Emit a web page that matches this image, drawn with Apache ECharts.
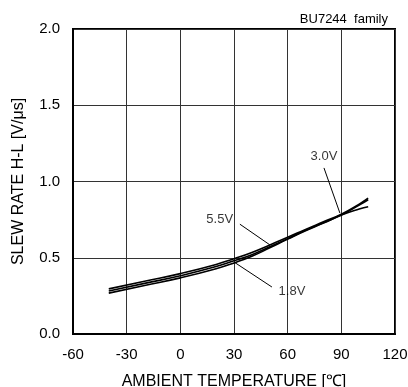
<!DOCTYPE html>
<html><head><meta charset="utf-8">
<script src="https://cdn.jsdelivr.net/npm/echarts@6/dist/echarts.min.js"></script>
<style>html,body{margin:0;padding:0;background:#fff}#c{width:408px;height:387px}</style>
</head><body><div id="c"></div>
<script>
const temps = [-40, -20, 0, 20, 30, 40, 50, 60, 70, 80, 90, 100, 105];
const v18 = [0.282, 0.332, 0.382, 0.442, 0.48, 0.52, 0.572, 0.625, 0.68, 0.73, 0.78, 0.845, 0.88];
const v30 = [0.268, 0.318, 0.368, 0.428, 0.466, 0.51, 0.565, 0.622, 0.677, 0.727, 0.78, 0.82, 0.835];
const v55 = [0.296, 0.346, 0.396, 0.456, 0.494, 0.535, 0.584, 0.634, 0.686, 0.736, 0.786, 0.852, 0.89];
const labels = [
  {name: '5.5V', pos: [22, 0.754], from: [33.3, 0.72], to: [50.1, 0.584]},
  {name: '3.0V', pos: [80.3, 1.167], from: [80.3, 1.089], to: [89.2, 0.793]},
  {name: '1.8V', pos: [62.4, 0.282], from: [51.2, 0.308], to: [30, 0.472]}
];
const font = 'Liberation Sans, Arial, sans-serif';
const chart = echarts.init(document.getElementById('c'));
const lineSeries = (name, vals) => ({
  name, type: 'line', data: temps.map((t, i) => [t, vals[i]]), smooth: true,
  symbol: 'none', lineStyle: {color: '#000', width: 1.6}, z: 3
});
chart.setOption({
  animation: false,
  grid: {left: 73, right: 13, top: 29, bottom: 53, containLabel: false, outerBoundsMode: 'none',
         show: true, borderColor: '#000', borderWidth: 2},
  title: {text: 'BU7244  family', right: 15, top: 8, textStyle: {fontFamily: font, fontSize: 13, fontWeight: 'normal', color: '#000'}},
  xAxis: {
    type: 'value', min: -60, max: 120, interval: 30,
    name: 'AMBIENT TEMPERATURE [℃]', nameLocation: 'middle', nameGap: 40,
    nameTextStyle: {fontFamily: font, fontSize: 16, color: '#000'},
    axisLine: {show: true, onZero: false, lineStyle: {color: '#000', width: 2}},
    axisTick: {show: false},
    axisLabel: {fontFamily: font, fontSize: 15, color: '#000', margin: 13},
    splitLine: {show: true, lineStyle: {color: '#333', width: 1}}
  },
  yAxis: {
    type: 'value', min: 0, max: 2, interval: 0.5,
    name: 'SLEW RATE H-L [V/μs]', nameLocation: 'middle', nameGap: 46, nameRotate: 90,
    nameTextStyle: {fontFamily: font, fontSize: 16, color: '#000'},
    axisLine: {show: true, onZero: false, lineStyle: {color: '#000', width: 2}},
    axisTick: {show: false},
    axisLabel: {fontFamily: font, fontSize: 15, color: '#000', margin: 13, formatter: v => v.toFixed(1)},
    splitLine: {show: true, lineStyle: {color: '#333', width: 1}}
  },
  series: [
    lineSeries('1.8V', v18),
    lineSeries('3.0V', v30),
    lineSeries('5.5V', v55),
    {
      type: 'scatter', symbolSize: 0, z: 5,
      data: labels.map(l => ({value: l.pos, name: l.name})),
      label: {show: true, position: 'inside', formatter: p => p.name, fontFamily: font, fontSize: 13, color: '#000'}
    },
    {
      type: 'lines', coordinateSystem: 'cartesian2d', z: 4,
      data: labels.map(l => ({coords: [l.from, l.to]})),
      lineStyle: {color: '#000', width: 1, opacity: 1}
    }
  ]
});
</script></body></html>
